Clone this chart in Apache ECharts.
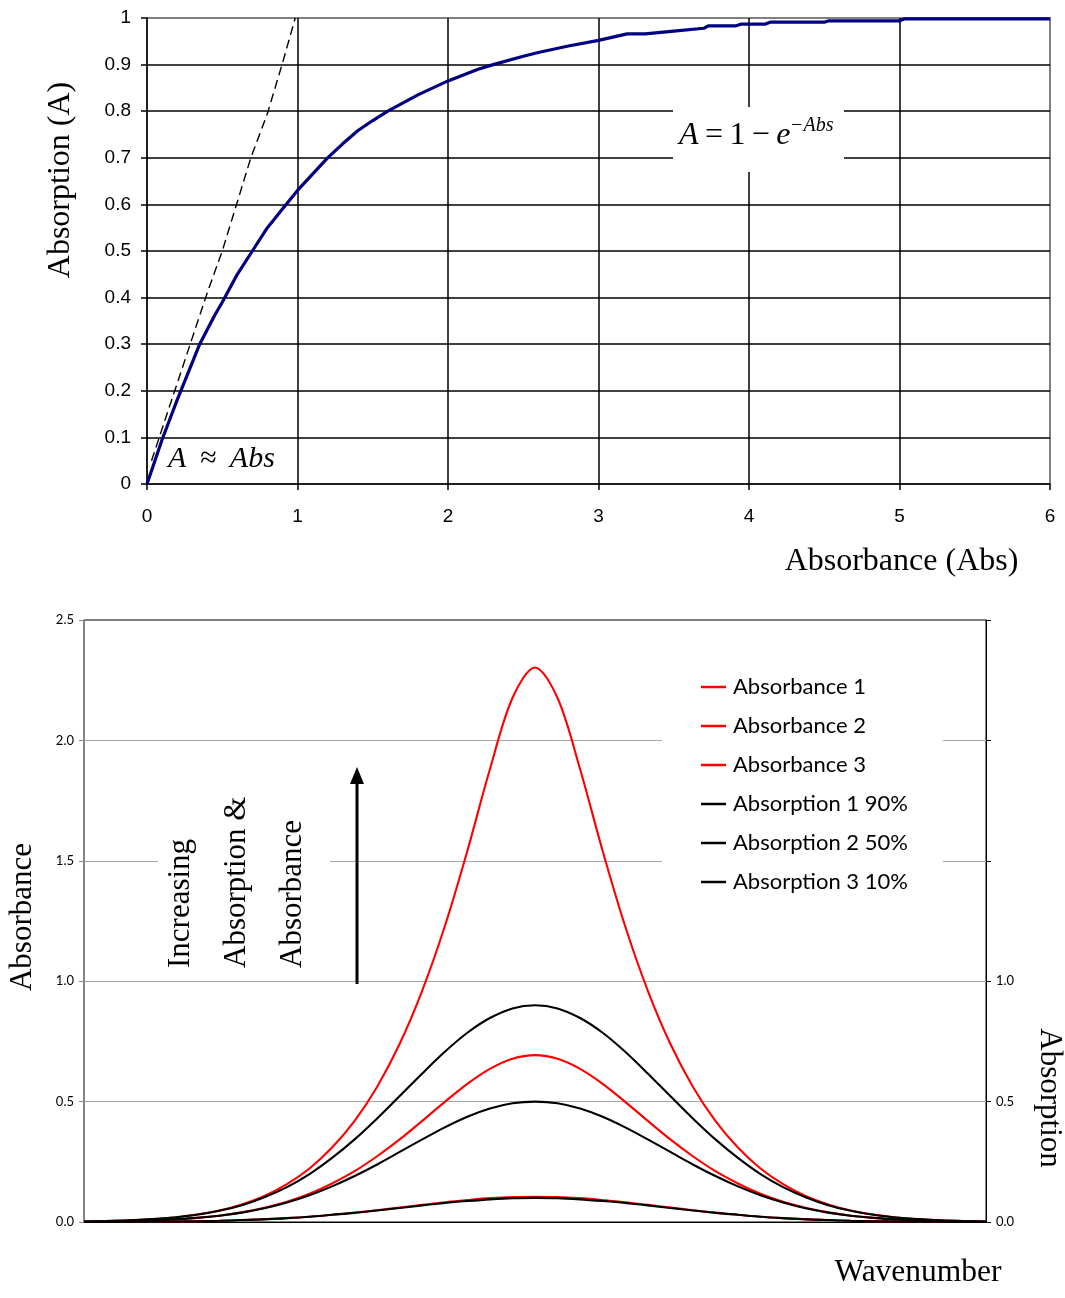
<!DOCTYPE html>
<html><head><meta charset="utf-8">
<script src="https://cdn.jsdelivr.net/npm/echarts@6/dist/echarts.min.js"></script>
<style>html,body{margin:0;padding:0;background:#fff}#c{width:1065px;height:1298px}</style>
</head><body><div id="c"></div>
<script>
// ---- Top chart: Absorption vs Absorbance ----
const absX = [0, 0.1, 0.2, 0.3, 0.35, 0.45, 0.5, 0.6, 0.7, 0.8, 0.9, 1.0, 1.1, 1.2, 1.3, 1.4, 1.5, 1.6, 1.8, 1.9, 2.0, 2.2, 2.3, 2.5, 2.6, 2.8, 3.0, 3.19, 3.31, 3.5, 3.7, 3.73, 3.91, 3.95, 4.11, 4.14, 4.5, 4.53, 5.0, 5.03, 6.0];
const absorptionA = [0, 0.095, 0.18, 0.26, 0.30, 0.362, 0.39, 0.45, 0.50, 0.55, 0.59, 0.63, 0.665, 0.70, 0.73, 0.758, 0.78, 0.80, 0.835, 0.85, 0.865, 0.89, 0.90, 0.918, 0.926, 0.94, 0.952, 0.966, 0.966, 0.972, 0.978, 0.983, 0.983, 0.987, 0.987, 0.991, 0.991, 0.994, 0.994, 0.998, 0.998];
const approxX = [0.03, 0.4, 0.5, 0.69, 0.8, 0.9, 0.985];
const approxY = [0.05, 0.41, 0.5, 0.70, 0.795, 0.903, 1.0];
const topXTicks = [0, 1, 2, 3, 4, 5, 6];

// ---- Bottom chart: spectra ----
const wavenumber = [0,2.5,5,7.5,10,12.5,15,17.5,20,22.5,25,27.5,30,32.5,35,37.5,40,42.5,45,47.5,50,52.5,55,57.5,60,62.5,65,67.5,70,72.5,75,77.5,80,82.5,85,87.5,90,92.5,95,97.5,100];
const absorbance1 = [0.002,0.004,0.007,0.012,0.019,0.031,0.048,0.073,0.108,0.157,0.222,0.309,0.420,0.562,0.740,0.961,1.228,1.541,1.880,2.176,2.303,2.176,1.880,1.541,1.228,0.961,0.740,0.562,0.420,0.309,0.222,0.157,0.108,0.073,0.048,0.031,0.019,0.012,0.007,0.004,0.002];
const absorbance2 = [0.001,0.002,0.004,0.006,0.011,0.017,0.026,0.040,0.059,0.084,0.117,0.160,0.211,0.273,0.343,0.420,0.499,0.574,0.636,0.678,0.693,0.678,0.636,0.574,0.499,0.420,0.343,0.273,0.211,0.160,0.117,0.084,0.059,0.040,0.026,0.017,0.011,0.006,0.004,0.002,0.001];
const absorbance3 = [0.000,0.000,0.001,0.001,0.002,0.003,0.005,0.008,0.012,0.016,0.022,0.030,0.039,0.049,0.060,0.071,0.082,0.091,0.099,0.104,0.105,0.104,0.099,0.091,0.082,0.071,0.060,0.049,0.039,0.030,0.022,0.016,0.012,0.008,0.005,0.003,0.002,0.001,0.001,0.000,0.000];
const absorption1 = [0.002,0.004,0.007,0.012,0.019,0.030,0.047,0.070,0.103,0.145,0.199,0.266,0.343,0.430,0.523,0.617,0.707,0.786,0.847,0.887,0.900,0.887,0.847,0.786,0.707,0.617,0.523,0.430,0.343,0.266,0.199,0.145,0.103,0.070,0.047,0.030,0.019,0.012,0.007,0.004,0.002];
const absorption2 = [0.001,0.002,0.004,0.006,0.011,0.017,0.026,0.039,0.057,0.081,0.111,0.148,0.191,0.239,0.291,0.343,0.393,0.437,0.471,0.493,0.500,0.493,0.471,0.437,0.393,0.343,0.291,0.239,0.191,0.148,0.111,0.081,0.057,0.039,0.026,0.017,0.011,0.006,0.004,0.002,0.001];
const absorption3 = [0.000,0.000,0.001,0.001,0.002,0.003,0.005,0.008,0.011,0.016,0.022,0.030,0.038,0.048,0.058,0.069,0.079,0.087,0.094,0.099,0.100,0.099,0.094,0.087,0.079,0.069,0.058,0.048,0.038,0.030,0.022,0.016,0.011,0.008,0.005,0.003,0.002,0.001,0.001,0.000,0.000];
const seriesNames = ['Absorbance 1','Absorbance 2','Absorbance 3','Absorption 1 90%','Absorption 2 50%','Absorption 3 10%'];
const leftTicks = [0, 0.5, 1.0, 1.5, 2.0, 2.5];

const zip = (xs, ys) => xs.map((x, i) => [x, ys[i]]);
const SERIF = '"Liberation Serif", "Times New Roman", serif';
const SANS = '"Liberation Sans", Arial, sans-serif';

const chart = echarts.init(document.getElementById('c'), null, {renderer: 'canvas'});

function specSeries(name, vals, color) {
  return {
    name, type: 'line', xAxisIndex: 1, yAxisIndex: 1,
    data: zip(wavenumber, vals), smooth: 0.33, symbol: 'none',
    lineStyle: {color, width: 2.1}, itemStyle: {color},
    emphasis: {disabled: true}
  };
}

const option = {
  animation: false,
  backgroundColor: '#fff',
  grid: [
    {left: 147, top: 18, width: 903, height: 466, show: true, borderColor: '#808080', borderWidth: 2,
     containLabel: false, outerBoundsMode: 'none'},
    {left: 84, top: 620, width: 902, height: 602, show: true, borderColor: '#000', borderWidth: 1,
     containLabel: false, outerBoundsMode: 'none'}
  ],
  xAxis: [
    {
      gridIndex: 0, type: 'value', min: 0, max: 6, interval: 1,
      axisLine: {lineStyle: {color: '#000', width: 1.5}},
      axisTick: {show: true, length: 6, lineStyle: {color: '#000', width: 1.5}},
      axisLabel: {fontFamily: SANS, fontSize: 19, color: '#000', margin: 23,
        formatter: v => topXTicks.includes(v) ? String(v) : ''},
      splitLine: {show: true, showMinLine: false, showMaxLine: false, lineStyle: {color: '#000', width: 1.5}},
      name: 'Absorbance (Abs)', nameLocation: 'middle', nameGap: 62,
      nameTextStyle: {fontFamily: SERIF, fontSize: 32, color: '#000', padding: [0, 0, 0, 606]}
    },
    {
      gridIndex: 1, type: 'value', min: 0, max: 100,
      axisLine: {show: true, lineStyle: {color: '#000', width: 1}},
      axisTick: {show: false}, axisLabel: {show: false}, splitLine: {show: false},
      name: 'Wavenumber', nameLocation: 'middle', nameGap: 35,
      nameTextStyle: {fontFamily: SERIF, fontSize: 31.5, color: '#000', padding: [0, 0, 0, 766]}
    }
  ],
  yAxis: [
    {
      gridIndex: 0, type: 'value', min: 0, max: 1, interval: 0.1,
      axisLine: {show: true, lineStyle: {color: '#000', width: 1.5}},
      axisTick: {show: true, length: 6, lineStyle: {color: '#000', width: 1.5}},
      axisLabel: {fontFamily: SANS, fontSize: 19, color: '#000', margin: 16},
      splitLine: {show: true, showMinLine: false, showMaxLine: false, lineStyle: {color: '#000', width: 1.5}},
      name: 'Absorption (A)', nameLocation: 'middle', nameGap: 70,
      nameTextStyle: {fontFamily: SERIF, fontSize: 32, color: '#000', padding: [0, 0, 0, 142]}
    },
    {
      gridIndex: 1, type: 'value', min: 0, max: 2.5, interval: 0.5, position: 'left',
      axisLine: {show: true, lineStyle: {color: '#868686', width: 1.5}},
      axisTick: {show: true, length: 5, lineStyle: {color: '#868686'}},
      axisLabel: {fontFamily: 'Lato', fontSize: 13, color: '#000', margin: 10,
        formatter: v => leftTicks.includes(v) ? v.toFixed(1) : ''},
      splitLine: {show: true, showMinLine: false, showMaxLine: false, lineStyle: {color: '#a6a6a6', width: 1}},
      name: 'Absorbance', nameLocation: 'middle', nameGap: 46,
      nameTextStyle: {fontFamily: SERIF, fontSize: 31, color: '#000', padding: [0, 0, 0, 8]}
    },
    {
      gridIndex: 1, type: 'value', min: 0, max: 2.5, interval: 0.5, position: 'right',
      axisLine: {show: true, lineStyle: {color: '#000', width: 1}},
      axisTick: {show: true, length: 5, lineStyle: {color: '#000'}},
      axisLabel: {fontFamily: 'Lato', fontSize: 13, color: '#000', margin: 10,
        formatter: v => v <= 1 ? v.toFixed(1) : ''},
      splitLine: {show: false},
      name: 'Absorption', nameLocation: 'middle', nameGap: 48, nameRotate: -90,
      nameTextStyle: {fontFamily: SERIF, fontSize: 31, color: '#000', padding: [0, 0, 0, 354]}
    }
  ],
  legend: {
    data: seriesNames, orient: 'vertical', left: 662, top: 660,
    padding: [16, 35, 22, 39], backgroundColor: '#fff',
    icon: 'rect', itemWidth: 25, itemHeight: 2.5, itemGap: 17,
    textStyle: {fontFamily: 'Lato', fontSize: 22, color: '#000', lineHeight: 22, padding: [0, 0, 0, 2]},
    selectedMode: false
  },
  series: [
    {
      name: 'A = Abs approx', type: 'line', xAxisIndex: 0, yAxisIndex: 0,
      data: zip(approxX, approxY), symbol: 'none',
      lineStyle: {color: '#000', width: 1.4, type: [9, 5]}, emphasis: {disabled: true}
    },
    {
      name: 'A = 1 - e^-Abs', type: 'line', xAxisIndex: 0, yAxisIndex: 0,
      data: zip(absX, absorptionA), symbol: 'none',
      lineStyle: {color: '#000080', width: 3.2}, emphasis: {disabled: true}
    },
    specSeries('Absorbance 1', absorbance1, '#ff0000'),
    specSeries('Absorbance 2', absorbance2, '#ff0000'),
    specSeries('Absorbance 3', absorbance3, '#ff0000'),
    specSeries('Absorption 1 90%', absorption1, '#000000'),
    specSeries('Absorption 2 50%', absorption2, '#000000'),
    specSeries('Absorption 3 10%', absorption3, '#000000')
  ],
  graphic: [
    {type: 'rect', z: 5, shape: {x: 673, y: 107, width: 171, height: 65}, style: {fill: '#fff'}},
    {type: 'text', z: 6, x: 679, y: 136, style: {
      text: '{i|A}\u2009=\u20091\u2009−\u2009{i|e}', fontFamily: SERIF, fontSize: 32, fill: '#000', verticalAlign: 'middle',
      rich: {i: {fontStyle: 'italic', fontFamily: SERIF, fontSize: 32}}}},
    {type: 'text', z: 6, x: 790, y: 126, style: {
      text: '−Abs', fontFamily: SERIF, fontSize: 20, fontStyle: 'italic', fill: '#000', verticalAlign: 'middle'}},
    {type: 'text', z: 6, x: 168, y: 459, style: {
      text: 'A \u2009≈\u2009 Abs', fontFamily: SERIF, fontSize: 30, fontStyle: 'italic', fill: '#000', verticalAlign: 'middle'}},
    {type: 'rect', z: 5, shape: {x: 158, y: 785, width: 172, height: 190}, style: {fill: '#fff'}},
    {type: 'text', z: 6, x: 181, y: 968, rotation: Math.PI / 2, style: {
      text: 'Increasing', fontFamily: SERIF, fontSize: 31, fill: '#000', align: 'left', verticalAlign: 'middle'}},
    {type: 'text', z: 6, x: 237, y: 968, rotation: Math.PI / 2, style: {
      text: 'Absorption &', fontFamily: SERIF, fontSize: 31, fill: '#000', align: 'left', verticalAlign: 'middle'}},
    {type: 'text', z: 6, x: 293, y: 968, rotation: Math.PI / 2, style: {
      text: 'Absorbance', fontFamily: SERIF, fontSize: 31, fill: '#000', align: 'left', verticalAlign: 'middle'}},
    {type: 'line', z: 6, shape: {x1: 357, y1: 984, x2: 357, y2: 782}, style: {stroke: '#000', lineWidth: 3}},
    {type: 'polygon', z: 6, shape: {points: [[357, 767], [350, 784], [364, 784]]}, style: {fill: '#000'}}
  ]
};
chart.setOption(option);
</script>
</body></html>
